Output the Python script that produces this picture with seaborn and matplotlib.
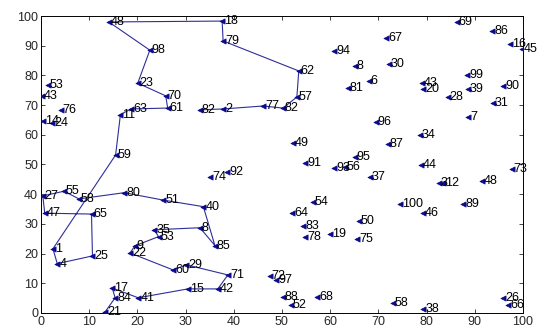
import numpy as np
import pandas as pd
import matplotlib
matplotlib.use('Agg')
import matplotlib.pyplot as plt
import seaborn as sns

# points on the route, in visiting order
route_labels = ['82', '2', '77', '82', '57', '62', '79', '18', '48', '98', '23', '70', '61', '63',
                '11', '59', '1', '4', '25', '65', '47', '27', '55', '58', '80', '51', '40', '85',
                '8', '35', '53', '9', '22', '60', '29', '71', '42', '15', '41', '17', '84', '21']
route_x = [33.0, 37.8, 46.1, 50.2, 53.1, 53.5, 37.8, 37.6, 14.1, 22.6, 20.1, 25.9, 26.3, 18.7,
           16.5, 15.5, 2.5, 3.4, 10.7, 10.5, 0.8, 0.4, 4.8, 7.9, 17.3, 25.4, 33.7, 36.1,
           33.0, 23.5, 24.4, 19.5, 18.5, 27.4, 30.2, 38.8, 36.7, 30.5, 20.2, 14.8, 15.4, 13.3]
route_y = [68.4, 68.7, 69.7, 69.0, 72.7, 81.5, 91.6, 98.3, 98.0, 88.5, 77.4, 73.1, 69.0, 68.7,
           66.8, 53.2, 21.6, 16.6, 19.2, 33.3, 33.6, 39.4, 41.0, 38.4, 40.5, 38.0, 35.8, 22.7,
           28.7, 28.0, 25.7, 22.6, 20.2, 14.5, 16.2, 12.8, 8.1, 8.1, 5.1, 8.4, 5.1, 0.3]

# the other points (not on the route)
other_labels = ['43', '53', '76', '14', '24', '94', '49', '91', '74', '92', '93', '54', '64', '83',
                '78', '19', '72', '97', '88', '52', '68', '67', '8', '30', '81', '6', '69', '86',
                '16', '45', '43', '20', '28', '99', '39', '90', '31', '7', '96', '34', '87', '95',
                '56', '44', '37', '3', '12', '48', '73', '100', '89', '46', '50', '75', '58', '38',
                '26', '66']
other_x = [0.2, 1.4, 4.1, 0.4, 2.3, 60.8, 52.3, 54.8, 35.1, 38.6, 60.8, 56.4, 52.1, 54.4,
           54.8, 60.0, 47.5, 48.8, 50.2, 51.9, 57.3, 71.6, 65.1, 72.2, 63.7, 68.0, 86.3, 93.6,
           97.3, 99.8, 79.0, 79.3, 84.4, 88.4, 88.6, 95.9, 93.8, 88.6, 69.5, 78.6, 72.0, 65.1,
           63.1, 78.8, 68.3, 82.6, 83.4, 91.5, 97.7, 74.5, 87.6, 79.3, 66.0, 65.6, 73.0, 79.3,
           95.9, 96.9]
other_y = [73.1, 76.8, 68.4, 64.7, 63.9, 88.2, 57.2, 50.5, 45.8, 47.5, 48.8, 37.4, 33.6, 29.3,
           25.6, 26.6, 12.5, 11.1, 5.4, 2.7, 5.4, 92.6, 83.2, 83.8, 75.8, 78.1, 98.0, 94.9,
           90.6, 88.9, 77.4, 75.4, 72.7, 80.1, 75.4, 76.4, 70.7, 66.0, 64.3, 59.9, 56.9, 52.5,
           49.2, 49.8, 45.8, 43.6, 43.8, 44.4, 48.5, 36.7, 36.7, 33.6, 31.0, 24.9, 3.3, 1.3,
           5.1, 2.7]

route = pd.DataFrame({'x': route_x, 'y': route_y, 'label': route_labels, 'step': range(len(route_x))})
others = pd.DataFrame({'x': other_x, 'y': other_y, 'label': other_labels})
points = pd.concat([route[['x', 'y', 'label']], others], ignore_index=True)

sns.set_style('ticks')
plt.rcParams['font.family'] = ['Liberation Sans', 'DejaVu Sans']

fig = plt.figure(figsize=(5.38, 3.27), dpi=100)
ax = fig.add_axes([0.076, 0.043, 0.896, 0.908])

line_col = '#2e2e9a'
mark_col = '#0a0a8c'

sns.lineplot(data=route, x='x', y='y', sort=False, estimator=None, color=line_col,
             linewidth=0.8, ax=ax)
sns.scatterplot(data=points, x='x', y='y', marker='<', s=14, color=mark_col,
                edgecolor=mark_col, linewidth=0.5, ax=ax, zorder=3)

for px, py, lab in zip(points['x'], points['y'], points['label']):
    ax.text(px + 0.4, py, lab, fontsize=9, ha='left', va='center', color='black')

ax.set_xlim(0, 100)
ax.set_ylim(0, 100)
ax.set_xticks(np.arange(0, 101, 10))
ax.set_yticks(np.arange(0, 101, 10))
ax.tick_params(direction='in', top=True, right=True, labelsize=9, length=3, width=0.6,
               pad=2)
for sp in ax.spines.values():
    sp.set_linewidth(0.7)
    sp.set_color('black')
ax.set_xlabel('')
ax.set_ylabel('')

fig.savefig('out.png', dpi=100)
